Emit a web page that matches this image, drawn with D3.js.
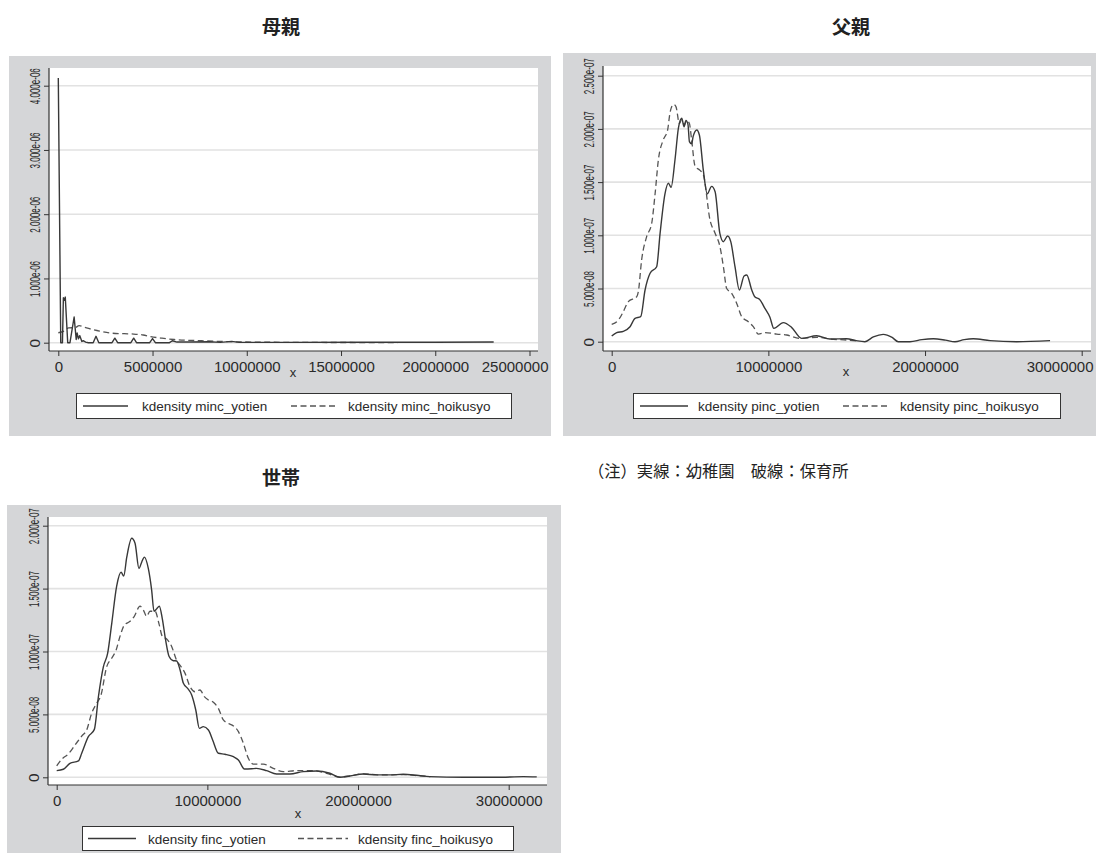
<!DOCTYPE html>
<html>
<head>
<meta charset="utf-8">
<script src="https://cdn.jsdelivr.net/npm/d3@7"></script>
<style>
  body { margin: 0; background: #ffffff; }
  svg { display: block; font-family: "Liberation Sans", Arial, sans-serif; }
</style>
</head>
<body>
<svg id="chart" width="1096" height="863"></svg>
<script>
// ---------------- data: kernel density estimates (x = income in yen) ----------------
// 母親 (mother's income)
const mincYotien = [
  [0, 4.12e-6], [0.13e6, 0], [0.22e6, 0], [0.27e6, 0.70e-6], [0.32e6, 0.66e-6], [0.37e6, 0.71e-6],
  [0.5e6, 0], [0.62e6, 0], [0.84e6, 0.40e-6], [0.95e6, 0.05e-6], [1.0e6, 0.15e-6], [1.07e6, 0.06e-6],
  [1.14e6, 0.11e-6], [1.25e6, 0.02e-6], [1.34e6, 0.03e-6], [1.45e6, 0.01e-6], [1.6e6, 0], [1.85e6, 0],
  [2.0e6, 0.10e-6], [2.15e6, 0], [2.85e6, 0], [3.0e6, 0.07e-6], [3.15e6, 0], [3.85e6, 0],
  [4.0e6, 0.07e-6], [4.15e6, 0], [4.85e6, 0], [5.0e6, 0.065e-6], [5.15e6, 0], [5.9e6, 0],
  [6.05e6, 0.03e-6], [6.3e6, 0.01e-6], [7.0e6, 0.01e-6], [8.0e6, 0.015e-6], [8.6e6, 0.005e-6],
  [9.2e6, 0.02e-6], [9.6e6, 0.005e-6], [12e6, 0.005e-6], [16e6, 0.008e-6], [20e6, 0.008e-6], [23.1e6, 0.012e-6]
];
const mincHoikusyo = [
  [0, 0.155e-6], [0.3e6, 0.18e-6], [0.55e6, 0.23e-6], [0.9e6, 0.235e-6], [1.1e6, 0.265e-6],
  [1.5e6, 0.23e-6], [2.05e6, 0.19e-6], [2.75e6, 0.15e-6], [3.5e6, 0.14e-6], [4.0e6, 0.135e-6],
  [4.5e6, 0.12e-6], [4.9e6, 0.095e-6], [5.5e6, 0.07e-6], [6.15e6, 0.05e-6], [7.6e6, 0.03e-6],
  [9.3e6, 0.015e-6], [12e6, 0.006e-6], [15e6, 0.003e-6], [18e6, 0.002e-6]
];
const mincXTicks = [0, 5000000, 10000000, 15000000, 20000000, 25000000];
const mincYTicks = [0, 1e-6, 2e-6, 3e-6, 4e-6];
const mincYLabels = ["0", "1.000e-06", "2.000e-06", "3.000e-06", "4.000e-06"];
const mincLegend = ["kdensity minc_yotien", "kdensity minc_hoikusyo"];

// 父親 (father's income)
const pincYotien = [
  [0, 0.53e-8], [0.32e6, 0.85e-8], [0.74e6, 0.97e-8], [1.17e6, 1.41e-8], [1.49e6, 2.19e-8],
  [1.85e6, 2.35e-8], [2.13e6, 4.86e-8], [2.45e6, 6.43e-8], [2.87e6, 7.05e-8], [3.09e6, 10.2e-8],
  [3.4e6, 13.9e-8], [3.62e6, 14.9e-8], [3.79e6, 14.5e-8], [4.04e6, 17.1e-8], [4.26e6, 20.1e-8],
  [4.47e6, 21.0e-8], [4.62e6, 20.2e-8], [4.74e6, 20.8e-8], [4.87e6, 20.4e-8], [4.96e6, 18.8e-8],
  [5.1e6, 18.6e-8], [5.2e6, 19.3e-8], [5.43e6, 19.9e-8], [5.6e6, 19.4e-8], [5.85e6, 16.1e-8],
  [6.1e6, 13.9e-8], [6.38e6, 14.6e-8], [6.6e6, 14.1e-8], [6.9e6, 10.2e-8], [7.13e6, 9.4e-8],
  [7.4e6, 9.94e-8], [7.6e6, 9.4e-8], [7.87e6, 7.05e-8], [8.15e6, 4.86e-8], [8.45e6, 6.18e-8],
  [8.62e6, 6.27e-8], [8.94e6, 4.86e-8], [9.15e6, 4.2e-8], [9.43e6, 4.0e-8], [9.79e6, 3.1e-8],
  [10.1e6, 2.3e-8], [10.35e6, 1.25e-8], [10.95e6, 1.79e-8], [11.48e6, 1.35e-8], [12.12e6, 0.31e-8],
  [13.08e6, 0.56e-8], [13.93e6, 0.25e-8], [14.99e6, 0.28e-8], [15.6e6, 0.1e-8], [16.16e6, 0],
  [16.7e6, 0.45e-8], [17.33e6, 0.69e-8], [17.9e6, 0.4e-8], [18.29e6, 0], [19.04e6, 0],
  [19.8e6, 0.2e-8], [20.53e6, 0.28e-8], [21.3e6, 0.15e-8], [21.91e6, 0], [22.5e6, 0.2e-8],
  [23.08e6, 0.28e-8], [24.15e6, 0.1e-8], [25.85e6, 0], [27.98e6, 0.1e-8]
];
const pincHoikusyo = [
  [0, 1.63e-8], [0.43e6, 2.04e-8], [0.74e6, 2.82e-8], [1.06e6, 3.76e-8], [1.6e6, 4.23e-8],
  [1.7e6, 4.7e-8], [1.91e6, 7.68e-8], [2.23e6, 9.87e-8], [2.55e6, 11.1e-8], [2.77e6, 13.9e-8],
  [2.98e6, 17.1e-8], [3.3e6, 19.0e-8], [3.57e6, 19.9e-8], [3.72e6, 21.5e-8], [3.94e6, 22.3e-8],
  [4.1e6, 22.1e-8], [4.32e6, 20.5e-8], [4.47e6, 20.9e-8], [4.64e6, 20.4e-8], [4.79e6, 20.8e-8],
  [4.96e6, 20.5e-8], [5.1e6, 19.0e-8], [5.32e6, 16.5e-8], [5.64e6, 16.1e-8], [5.85e6, 15.7e-8],
  [6.28e6, 11.4e-8], [6.6e6, 10.2e-8], [6.91e6, 8.93e-8], [7.13e6, 7.05e-8], [7.34e6, 5.0e-8],
  [7.66e6, 4.55e-8], [7.98e6, 3.6e-8], [8.3e6, 2.35e-8], [8.72e6, 1.88e-8], [9.04e6, 1.41e-8],
  [9.36e6, 0.72e-8], [9.79e6, 0.85e-8], [10.53e6, 0.72e-8], [11.17e6, 0.63e-8], [12.02e6, 0.31e-8],
  [13.08e6, 0.41e-8], [14.15e6, 0.22e-8], [14.99e6, 0.16e-8], [15.6e6, 0.08e-8]
];
const pincXTicks = [0, 10000000, 20000000, 30000000];
const pincYTicks = [0, 5e-8, 1e-7, 1.5e-7, 2e-7, 2.5e-7];
const pincYLabels = ["0", "5.000e-08", "1.000e-07", "1.500e-07", "2.000e-07", "2.500e-07"];
const pincLegend = ["kdensity pinc_yotien", "kdensity pinc_hoikusyo"];

// 世帯 (household income)
const fincYotien = [
  [0, 0.53e-8], [0.44e6, 0.64e-8], [0.88e6, 1.11e-8], [1.44e6, 1.30e-8], [1.66e6, 1.91e-8],
  [2.1e6, 3.23e-8], [2.5e6, 3.81e-8], [2.77e6, 6.41e-8], [3.1e6, 8.8e-8], [3.38e6, 9.85e-8],
  [3.65e6, 12.2e-8], [3.98e6, 15.2e-8], [4.27e6, 16.3e-8], [4.45e6, 16.0e-8], [4.65e6, 17.5e-8],
  [4.98e6, 19.0e-8], [5.2e6, 18.6e-8], [5.46e6, 16.6e-8], [5.64e6, 17.1e-8], [5.82e6, 17.5e-8],
  [6.08e6, 16.6e-8], [6.3e6, 14.9e-8], [6.46e6, 13.2e-8], [6.64e6, 13.4e-8], [6.81e6, 13.6e-8],
  [7.01e6, 12.6e-8], [7.23e6, 10.9e-8], [7.46e6, 9.6e-8], [7.74e6, 9.27e-8], [7.96e6, 9.25e-8],
  [8.19e6, 8.53e-8], [8.41e6, 7.47e-8], [8.69e6, 7.07e-8], [8.96e6, 6.54e-8], [9.23e6, 5.35e-8],
  [9.47e6, 3.89e-8], [9.73e6, 4.03e-8], [10.07e6, 3.76e-8], [10.35e6, 2.97e-8], [10.73e6, 1.91e-8],
  [11.17e6, 1.83e-8], [11.73e6, 1.64e-8], [12.06e6, 1.38e-8], [12.46e6, 0.66e-8], [12.94e6, 0.68e-8],
  [13.26e6, 0.71e-8], [13.93e6, 0.53e-8], [14.59e6, 0.26e-8], [15.48e6, 0.26e-8], [16.36e6, 0.45e-8],
  [17.25e6, 0.5e-8], [18.13e6, 0.32e-8], [18.8e6, 0], [19.46e6, 0.1e-8], [20.35e6, 0.26e-8],
  [21.23e6, 0.19e-8], [22.12e6, 0.19e-8], [23.0e6, 0.24e-8], [23.89e6, 0.16e-8], [24.77e6, 0.05e-8],
  [26.98e6, 0], [29.2e6, 0], [30.97e6, 0.05e-8], [31.86e6, 0.03e-8]
];
const fincHoikusyo = [
  [0, 0.9e-8], [0.33e6, 1.43e-8], [0.77e6, 1.85e-8], [1.22e6, 2.57e-8], [1.66e6, 3.28e-8],
  [1.99e6, 3.76e-8], [2.32e6, 5.09e-8], [2.65e6, 5.88e-8], [2.94e6, 6.54e-8], [3.32e6, 8.8e-8],
  [3.65e6, 9.46e-8], [3.94e6, 10.1e-8], [4.2e6, 11.2e-8], [4.49e6, 12.1e-8], [4.87e6, 12.4e-8],
  [5.15e6, 12.8e-8], [5.53e6, 13.6e-8], [5.75e6, 13.3e-8], [5.97e6, 12.8e-8], [6.19e6, 13.2e-8],
  [6.53e6, 13.2e-8], [6.79e6, 12.2e-8], [7.01e6, 11.2e-8], [7.3e6, 11.0e-8], [7.63e6, 10.4e-8],
  [7.96e6, 9.3e-8], [8.25e6, 8.8e-8], [8.52e6, 8.26e-8], [8.85e6, 7.2e-8], [9.18e6, 6.8e-8],
  [9.51e6, 6.94e-8], [9.8e6, 6.41e-8], [10.07e6, 6.15e-8], [10.4e6, 5.96e-8], [10.73e6, 5.48e-8],
  [11.06e6, 4.56e-8], [11.39e6, 4.29e-8], [11.73e6, 4.08e-8], [12.06e6, 3.63e-8], [12.39e6, 2.7e-8],
  [12.72e6, 1.51e-8], [13.05e6, 1.05e-8], [13.71e6, 1.05e-8], [14.37e6, 0.71e-8], [15.04e6, 0.45e-8],
  [15.92e6, 0.53e-8], [17.03e6, 0.53e-8], [17.91e6, 0.32e-8], [18.8e6, 0.02e-8], [19.5e6, 0.12e-8],
  [20.4e6, 0.28e-8], [21.3e6, 0.2e-8], [22.2e6, 0.2e-8], [23.0e6, 0.22e-8], [23.9e6, 0.14e-8],
  [24.8e6, 0.05e-8]
];
const fincXTicks = [0, 10000000, 20000000, 30000000];
const fincYTicks = [0, 5e-8, 1e-7, 1.5e-7, 2e-7];
const fincYLabels = ["0", "5.000e-08", "1.000e-07", "1.500e-07", "2.000e-07"];
const fincLegend = ["kdensity finc_yotien", "kdensity finc_hoikusyo"];

const titles = ["母親", "父親", "世帯"];
const noteText = "（注）実線：幼稚園　破線：保育所";

// ---------------- layout & style ----------------
const GRAY = "#d5d6d8";
const GRID = "#e2e2e2";
const INK = "#333333";
const SOLID = "#383838";
const DASHED = "#555555";
const DASH = "6,3.5";

const panels = [
  {
    title: titles[0], tx: 281, ty: 34,
    bg: { x: 9, y: 56, w: 542, h: 380 },
    plot: { x: 49, y: 68, w: 489, h: 283 },
    xDom: [0, 25e6], xRng: [58.3, 529.5], yDom: [0, 4e-6], yRng: [342.7, 85.7],
    xTicks: mincXTicks, yTicks: mincYTicks, yLabels: mincYLabels,
    solid: mincYotien, dashed: mincHoikusyo, solidCurve: d3.curveLinear, dashedCurve: d3.curveMonotoneX,
    legend: { x: 76, y: 393, w: 435, h: 25, s1: [83, 128], t1: 142, s2: [291, 338], t2: 348, labels: mincLegend },
    xTitle: [293, 377]
  },
  {
    title: titles[1], tx: 851, ty: 34,
    bg: { x: 563, y: 53, w: 533, h: 383 },
    plot: { x: 603, y: 66, w: 488, h: 285 },
    xDom: [0, 30e6], xRng: [611.7, 1081.7], yDom: [0, 2.5e-7], yRng: [341.7, 75.7],
    xTicks: pincXTicks, yTicks: pincYTicks, yLabels: pincYLabels,
    solid: pincYotien, dashed: pincHoikusyo, solidCurve: d3.curveMonotoneX, dashedCurve: d3.curveMonotoneX,
    legend: { x: 633, y: 393, w: 427, h: 25, s1: [640, 688], t1: 698, s2: [843, 890], t2: 900, labels: pincLegend },
    xTitle: [846, 376]
  },
  {
    title: titles[2], tx: 281, ty: 485,
    bg: { x: 7, y: 505, w: 554, h: 348 },
    plot: { x: 48, y: 517, w: 499, h: 268 },
    xDom: [0, 30e6], xRng: [56.7, 508.7], yDom: [0, 2e-7], yRng: [777.3, 525.7],
    xTicks: fincXTicks, yTicks: fincYTicks, yLabels: fincYLabels,
    solid: fincYotien, dashed: fincHoikusyo, solidCurve: d3.curveMonotoneX, dashedCurve: d3.curveMonotoneX,
    legend: { x: 82, y: 826, w: 431, h: 24, s1: [88, 136], t1: 148, s2: [298, 348], t2: 358, labels: fincLegend },
    xTitle: [298, 818]
  }
];

const svg = d3.select("#chart");

panels.forEach(p => {
  const g = svg.append("g");

  // panel title
  g.append("text")
    .attr("x", p.tx).attr("y", p.ty)
    .attr("text-anchor", "middle")
    .style("font-family", '"Noto Sans CJK JP", sans-serif')
    .style("font-weight", "700")
    .style("font-size", "19px")
    .attr("fill", "#222")
    .text(p.title);

  // graph region and plot region
  g.append("rect").attr("x", p.bg.x).attr("y", p.bg.y).attr("width", p.bg.w).attr("height", p.bg.h).attr("fill", GRAY);
  g.append("rect").attr("x", p.plot.x).attr("y", p.plot.y).attr("width", p.plot.w).attr("height", p.plot.h).attr("fill", "#ffffff");

  const x = d3.scaleLinear().domain(p.xDom).range(p.xRng);
  const y = d3.scaleLinear().domain(p.yDom).range(p.yRng);

  // horizontal grid lines
  g.append("g").selectAll("line").data(p.yTicks).join("line")
    .attr("x1", p.plot.x).attr("x2", p.plot.x + p.plot.w)
    .attr("y1", d => y(d)).attr("y2", d => y(d))
    .attr("stroke", GRID).attr("stroke-width", 1.6);

  const bottom = p.plot.y + p.plot.h;
  const rightLimit = Math.min(p.bg.x + p.bg.w, 1096) - 3;

  // x axis
  const xa = g.append("g").attr("transform", `translate(0,${bottom})`)
    .call(d3.axisBottom(x).tickValues(p.xTicks).tickSize(5).tickPadding(4).tickFormat(d3.format("d")));
  xa.select(".domain").remove();
  xa.selectAll(".tick line").attr("stroke", INK).attr("stroke-width", 1);
  xa.selectAll(".tick text")
    .attr("fill", "#2a2a2a")
    .style("font-family", '"Liberation Sans", Arial, sans-serif')
    .style("font-size", "15px")
    .attr("dy", "0.78em")
    .attr("x", function (d) {
      // pull the last label back inside the graph region
      const w = this.getComputedTextLength();
      const over = x(d) + w / 2 - rightLimit;
      return over > 0 ? -over : 0;
    });

  // y axis
  const ya = g.append("g").attr("transform", `translate(${p.plot.x},0)`)
    .call(d3.axisLeft(y).tickValues(p.yTicks).tickSize(5).tickFormat((d, i) => p.yLabels[i]));
  ya.select(".domain").remove();
  ya.selectAll(".tick line").attr("stroke", INK).attr("stroke-width", 1);
  ya.selectAll(".tick text")
    .attr("fill", "#2a2a2a")
    .style("font-family", '"Liberation Sans", Arial, sans-serif')
    .style("font-size", "15.5px")
    .attr("text-anchor", "middle")
    .attr("transform", "rotate(-90)")
    .attr("x", function (d) {
      // keep the topmost label inside the graph region
      const yy = y(d);
      const half = this.textContent.length > 1 ? 18 : 4;
      return yy - half < p.bg.y + 1 ? -(p.bg.y + 1 + half - yy) : 0;
    })
    .attr("y", -9.5)
    .attr("dy", 0)
    .each(function () {
      if (this.textContent.length > 1) {
        d3.select(this).attr("textLength", 36).attr("lengthAdjust", "spacingAndGlyphs");
      }
    });

  // axis lines
  g.append("line").attr("x1", p.plot.x).attr("x2", p.plot.x + p.plot.w).attr("y1", bottom).attr("y2", bottom)
    .attr("stroke", INK).attr("stroke-width", 1.2);
  g.append("line").attr("x1", p.plot.x).attr("x2", p.plot.x).attr("y1", p.plot.y).attr("y2", bottom)
    .attr("stroke", INK).attr("stroke-width", 1.2);

  // x axis title
  g.append("text").attr("x", p.xTitle[0]).attr("y", p.xTitle[1])
    .attr("text-anchor", "middle").attr("fill", "#2a2a2a")
    .style("font-size", "13px").text("x");

  // density curves
  const lineGen = curve => d3.line().x(d => x(d[0])).y(d => y(d[1])).curve(curve);
  g.append("path").datum(p.dashed)
    .attr("d", lineGen(p.dashedCurve))
    .attr("fill", "none").attr("stroke", DASHED).attr("stroke-width", 1.3)
    .attr("stroke-dasharray", DASH);
  g.append("path").datum(p.solid)
    .attr("d", lineGen(p.solidCurve))
    .attr("fill", "none").attr("stroke", SOLID).attr("stroke-width", 1.4)
    .attr("stroke-linejoin", "round");

  // legend
  const L = p.legend;
  const lg = g.append("g");
  lg.append("rect").attr("x", L.x + 0.5).attr("y", L.y + 0.5).attr("width", L.w).attr("height", L.h)
    .attr("fill", "#ffffff").attr("stroke", "#333").attr("stroke-width", 1);
  const my = L.y + L.h / 2 + 0.5;
  lg.append("line").attr("x1", L.s1[0]).attr("x2", L.s1[1]).attr("y1", my).attr("y2", my)
    .attr("stroke", SOLID).attr("stroke-width", 1.4);
  lg.append("line").attr("x1", L.s2[0]).attr("x2", L.s2[1]).attr("y1", my).attr("y2", my)
    .attr("stroke", DASHED).attr("stroke-width", 1.3).attr("stroke-dasharray", DASH);
  [[L.t1, L.labels[0]], [L.t2, L.labels[1]]].forEach(([tx, label]) => {
    lg.append("text").attr("x", tx).attr("y", my + 5)
      .attr("fill", "#2a2a2a").style("font-size", "13.5px").text(label);
  });
});

// footnote
svg.append("text")
  .attr("x", 588).attr("y", 477)
  .style("font-family", '"Noto Sans CJK JP", sans-serif')
  .style("font-size", "16.3px")
  .attr("fill", "#222")
  .text(noteText);
</script>
</body>
</html>
